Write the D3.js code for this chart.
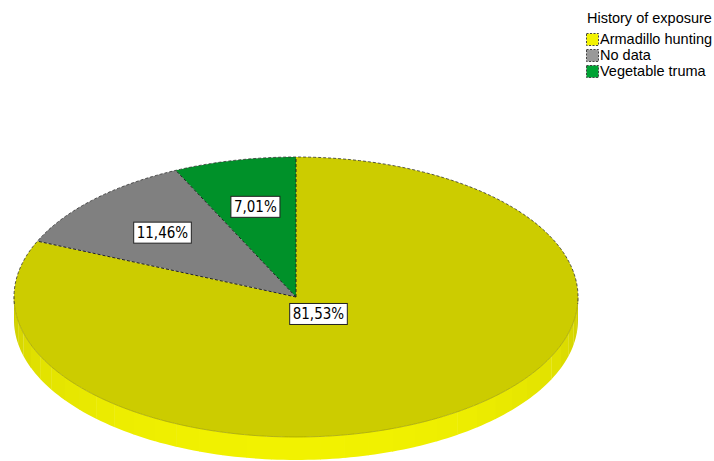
<!DOCTYPE html>
<html>
<head>
<meta charset="utf-8">
<script src="https://cdn.jsdelivr.net/npm/d3@7/dist/d3.min.js"></script>
<style>
  html, body { margin: 0; padding: 0; background: #fff; }
  svg { display: block; }
</style>
</head>
<body>
<svg id="chart" width="714" height="461"></svg>
<script>
const categories = ["Armadillo hunting", "No data", "Vegetable truma"];
const values = [81.53, 11.46, 7.01];
const labels = ["81,53%", "11,46%", "7,01%"];
const topColors = ["#cccc00", "#808080", "#009129"];
const legendColors = ["#f2f200", "#999999", "#00a334"];
const legendTitle = "History of exposure";

const W = 714, H = 461;
const cx = 296, cy = 297, rx = 282, ry = 140, depth = 23;
const labelRadius = [0.145, 0.66, 0.66];

const svg = d3.select("#chart");
const pie = d3.pie().sort(null).value(d => d)(values);

function pt(a, k = 1, dy = 0) {
  return [cx + rx * k * Math.sin(a), cy - ry * k * Math.cos(a) + dy];
}
const line = d3.line();

// side wall (front half only)
const sideG = svg.append("g");
const a0 = Math.PI / 2, a1 = 3 * Math.PI / 2;
const steps = 36;
const shade = d3.scaleLinear().domain([0, 1]).range(["#c2c200", "#f2f200"]);
for (let i = 0; i < steps; i++) {
  const s = a0 + (a1 - a0) * i / steps;
  const e = a0 + (a1 - a0) * (i + 1) / steps + 0.002;
  const pts = [];
  const n = 4;
  for (let j = 0; j <= n; j++) pts.push(pt(s + (e - s) * j / n));
  for (let j = n; j >= 0; j--) pts.push(pt(s + (e - s) * j / n, 1, depth));
  const mid = (s + e) / 2;
  const t = Math.max(0, -Math.cos(mid));
  sideG.append("path")
    .attr("d", line(pts) + "Z")
    .attr("fill", shade(Math.pow(t, 0.5)))
    .attr("stroke", "none");
}

// top face slices
const topG = svg.append("g");
pie.forEach((d, i) => {
  const pts = [[cx, cy]];
  const n = Math.max(8, Math.ceil((d.endAngle - d.startAngle) * 60));
  for (let j = 0; j <= n; j++) pts.push(pt(d.startAngle + (d.endAngle - d.startAngle) * j / n));
  topG.append("path")
    .attr("d", line(pts) + "Z")
    .attr("fill", topColors[i])
    .attr("stroke", "none");
});

// subtle edge between top and side
const frontPts = [];
for (let j = 0; j <= 120; j++) frontPts.push(pt(a0 + (a1 - a0) * j / 120));
svg.append("path").attr("d", line(frontPts)).attr("fill", "none")
  .attr("stroke", "#a0a000").attr("stroke-width", 1).attr("opacity", 0.7);

// dashed outline of back rim
const backPts = [];
for (let j = 0; j <= 200; j++) {
  const a = -Math.PI / 2 - 0.05 + (Math.PI + 0.1) * j / 200;
  backPts.push(pt(a));
}
svg.append("path").attr("d", line(backPts)).attr("fill", "none")
  .attr("stroke", "#333").attr("stroke-width", 1).attr("stroke-dasharray", "3,2").attr("opacity", 0.8);

// dashed slice boundaries
pie.forEach((d, i) => {
  const p = pt(d.startAngle);
  svg.append("line")
    .attr("x1", cx).attr("y1", cy)
    .attr("x2", p[0]).attr("y2", p[1])
    .attr("stroke", "#222").attr("stroke-width", 1).attr("stroke-dasharray", "3,2");
});

// labels
pie.forEach((d, i) => {
  const mid = (d.startAngle + d.endAngle) / 2;
  const [x, y] = pt(mid, labelRadius[i]);
  const g = svg.append("g").attr("transform", `translate(${x},${y})`);
  const txt = g.append("text")
    .attr("text-anchor", "middle")
    .attr("dy", "0.36em")
    .attr("font-family", "'DejaVu Sans Condensed', 'DejaVu Sans', sans-serif")
    .attr("font-stretch", "condensed")
    .attr("font-size", 15)
    .attr("fill", "#000")
    .text(labels[i]);
  const bb = txt.node().getBBox();
  g.insert("rect", "text")
    .attr("x", bb.x - 3).attr("y", -10.5)
    .attr("width", bb.width + 6).attr("height", 21)
    .attr("fill", "#fff").attr("stroke", "#222").attr("stroke-width", 1);
});

// legend
const lg = svg.append("g").attr("font-family", "'Liberation Sans', Arial, sans-serif");
lg.append("text").attr("x", 587).attr("y", 23).attr("font-size", 14.5).attr("fill", "#000").text(legendTitle);
categories.forEach((c, i) => {
  const y = 33 + i * 16;
  lg.append("rect").attr("x", 586.5).attr("y", y + 0.5).attr("width", 12).attr("height", 12)
    .attr("fill", legendColors[i]).attr("stroke", "#444").attr("stroke-width", 1).attr("stroke-dasharray", "2,1.5");
  lg.append("text").attr("x", 600).attr("y", y + 11).attr("font-size", 14.5).attr("fill", "#000").text(c);
});
</script>
</body>
</html>
